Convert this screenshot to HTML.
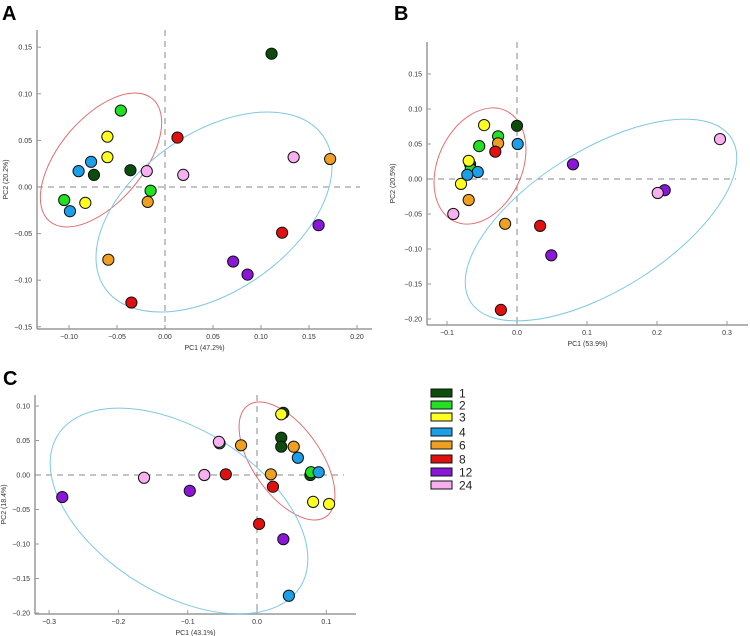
<!DOCTYPE html>
<html><head><meta charset="utf-8"><style>
body{margin:0;background:#fff;}
svg{display:block;font-family:"Liberation Sans",sans-serif;}
</style></head><body>
<svg id="s" width="750" height="636" viewBox="0 0 750 636">
<text x="2" y="20" font-size="20" font-weight="bold">A</text>
<text x="394" y="20" font-size="20" font-weight="bold">B</text>
<text x="3" y="385" font-size="20" font-weight="bold">C</text>
<g id="legend"></g>
</svg>
<script>
const groups=["1","2","3","4","6","8","12","24"];
const colors=["#0b4d0b","#22e022","#ffff22","#1a9fe8","#f0a020","#e01010","#8a16d8","#f8b0f0"];
// panel A values [x,y] per group
const aX=[[0.111,-0.036,-0.074],[-0.046,-0.015,-0.105],[-0.060,-0.060,-0.083],[-0.077,-0.090,-0.099],[0.172,-0.018,-0.059],[0.013,0.122,-0.035],[0.160,0.071,0.086],[0.134,-0.019,0.019]];
const aY=[[0.143,0.018,0.013],[0.082,-0.004,-0.014],[0.054,0.032,-0.017],[0.027,0.017,-0.026],[0.030,-0.016,-0.078],[0.053,-0.049,-0.124],[-0.041,-0.080,-0.094],[0.032,0.017,0.013]];
const bX=[[0,-0.067],[-0.027,-0.054,-0.066],[-0.047,-0.069,-0.080],[0.001,-0.056,-0.071],[-0.027,-0.069,-0.017],[-0.031,0.033,-0.023],[0.080,0.211,0.049],[0.290,0.201,-0.091]];
const bY=[[0.076,0.021],[0.061,0.047,0.014],[0.077,0.026,-0.007],[0.050,0.010,0.006],[0.051,-0.030,-0.064],[0.039,-0.067,-0.187],[0.021,-0.016,-0.109],[0.057,-0.020,-0.050]];
const cX=[[0.038,0.035,0.035,0.077],[-0.054,0.078],[0.035,0.081,0.104],[0.059,0.089,0.046],[-0.023,0.053,0.020],[-0.045,0.023,0.003],[-0.281,-0.097,0.038],[-0.055,-0.163,-0.076]];
const cY=[[0.090,0.054,0.041,0.000],[0.046,0.004],[0.088,-0.039,-0.042],[0.025,0.004,-0.175],[0.043,0.041,0.001],[0.001,-0.017,-0.071],[-0.032,-0.023,-0.093],[0.048,-0.004,0.000]];
const aXTicks=[-0.10,-0.05,0.00,0.05,0.10,0.15,0.20];
const aYTicks=[0.15,0.10,0.05,0.00,-0.05,-0.10,-0.15];
const bXTicks=[-0.1,0.0,0.1,0.2,0.3];
const bYTicks=[0.15,0.10,0.05,0.00,-0.05,-0.10,-0.15,-0.20];
const cXTicks=[-0.3,-0.2,-0.1,0.0,0.1];
const cYTicks=[0.10,0.05,0.00,-0.05,-0.10,-0.15,-0.20];
const NS="http://www.w3.org/2000/svg";
const svg=document.getElementById('s');
function mk(t,a,p){const e=document.createElementNS(NS,t);for(const k in a)e.setAttribute(k,a[k]);(p||svg).appendChild(e);return e;}
function fmt(v,d){return v<0?'\u2212'+Math.abs(v).toFixed(d):v.toFixed(d);}
function panel(P){
  const g=mk('g',{});
  
  
  const sx=v=>P.x0+v*P.kx, sy=v=>P.y0-v*P.ky;
  const l1=mk('line',{x1:P.left,y1:P.top,x2:P.left,y2:P.bottom,stroke:'#999','stroke-width':1.5},g);
  
  
  const l2=mk('line',{x1:P.left,y1:P.bottom,x2:P.right,y2:P.bottom,stroke:'#999','stroke-width':1.5},g);
  
  
  P.yt.forEach(v=>{const y=sy(v);mk('line',{x1:P.left,y1:y,x2:P.left+4,y2:y,stroke:'#999'},g);
    const t=mk('text',{x:P.left-5,y:y+2.5,'font-size':7,'text-anchor':'end',fill:'#333'},g);t.textContent=fmt(v,2);
    
    });
  P.xt.forEach(v=>{const x=sx(v);mk('line',{x1:x,y1:P.bottom,x2:x,y2:P.bottom-4,stroke:'#999'},g);
    const t=mk('text',{x:x,y:P.bottom+10,'font-size':7,'text-anchor':'middle',fill:'#333'},g);t.textContent=fmt(v,P.xd);
    
    });
  const xt=mk('text',{x:(P.left+P.right)/2,y:P.bottom+21,'font-size':7,'text-anchor':'middle',fill:'#333'},g);xt.textContent=P.xl;
  
  
  const yc=(P.top+P.bottom)/2;
  const yt=mk('text',{x:P.ytx,y:yc,'font-size':7,'text-anchor':'middle',fill:'#333',transform:`rotate(-90 ${P.ytx} ${yc})`},g);yt.textContent=P.yl;
  
  
  mk('line',{x1:sx(0),y1:P.top,x2:sx(0),y2:P.bottom,stroke:'#888','stroke-dasharray':'6,5'},g);
  mk('line',{x1:P.left,y1:sy(0),x2:P.right-12,y2:sy(0),stroke:'#888','stroke-dasharray':'6,5'},g);
  P.ell.forEach((e,i)=>{const el=mk('ellipse',{cx:e[0],cy:e[1],rx:e[2],ry:e[3],transform:`rotate(${e[4]} ${e[0]} ${e[1]})`,fill:'none',stroke:i?'#7ec8e3':'#e07070','stroke-width':1},g);
    
    });
  P.X.forEach((arr,gi)=>arr.forEach((v,j)=>{const c=mk('circle',{cx:sx(v),cy:sy(P.Y[gi][j]),r:5.6,fill:colors[gi],stroke:'#111','stroke-width':1},g);
    
    }));
}
panel({name:'panel-a',X:aX,Y:aY,x0:165,kx:960,y0:187,ky:932,left:37,right:372,top:30,bottom:329,xt:aXTicks,yt:aYTicks,xd:2,xl:'PC1 (47.2%)',yl:'PC2 (20.2%)',ytx:8,
  ell:[[101,160,80,42,-50],[214,212,133,79,-35]]});
panel({name:'panel-b',X:bX,Y:bY,x0:517,kx:700,y0:179,ky:700,left:427,right:748,top:42,bottom:325,xt:bXTicks,yt:bYTicks,xd:1,xl:'PC1 (53.9%)',yl:'PC2 (20.5%)',ytx:395,
  ell:[[480,166,61,42,-65],[601,220,154,70,-32]]});
panel({name:'panel-c',X:cX,Y:cY,x0:257,kx:693,y0:475,ky:690,left:35,right:356,top:395,bottom:614,xt:cXTicks,yt:cYTicks,xd:1,xl:'PC1 (43.1%)',yl:'PC2 (18.4%)',ytx:6,
  ell:[[287,461,68,34,55],[179,511,143,82,32]]});
const leg=document.getElementById('legend');
const legY=[393,405,417,432,445,459,472,485];
groups.forEach((gname,i)=>{
  const r=mk('rect',{x:431,y:legY[i]-4,width:21,height:8,fill:colors[i],stroke:'#111','stroke-width':1},leg);
  
  
  const t=mk('text',{x:459,y:legY[i]+4.5,'font-size':12,fill:'#222'},leg);t.textContent=gname;
  
  
});
</script>
</body></html>
